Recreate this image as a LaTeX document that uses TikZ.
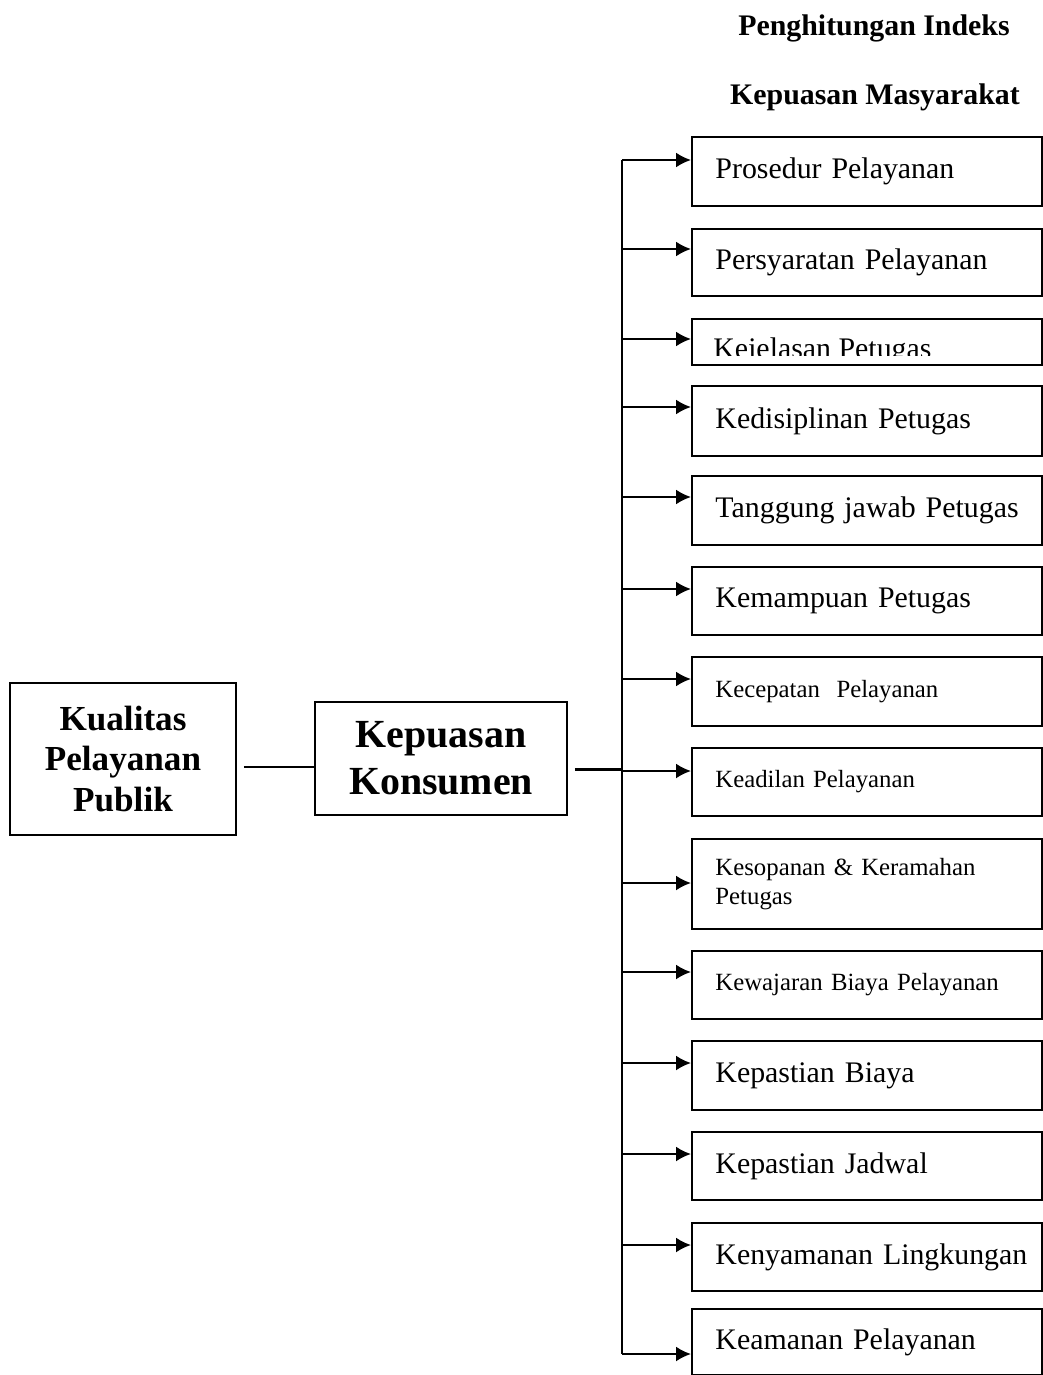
\documentclass[tikz,border=0pt]{standalone}
\usepackage{fontspec}
\setmainfont{Liberation Serif}
\usetikzlibrary{arrows.meta,calc}

\tikzset{
  item/.style={draw, line width=1.1pt, anchor=north west, minimum width=7cm,
    text width=6.06cm, inner xsep=0.44cm, align=left,
    font=\fontsize{17}{20}\selectfont},
  itemsmall/.style={item, font=\fontsize{14.1}{16.5}\selectfont},
  mainbox/.style={draw, line width=1.1pt, align=center},
  link/.style={line width=1.2pt},
}

\begin{document}
\begin{tikzpicture}[x=0.02cm,y=-0.02cm,>={Latex[length=0.3cm,width=0.3cm]}]
	\useasboundingbox (0,0) rectangle (1043,1375);

	% judul
	\node[font=\bfseries\fontsize{17}{20}\selectfont] (title1) at (874,28) {Penghitungan Indeks};
	\node[font=\bfseries\fontsize{17}{20}\selectfont] (title2) at (875,97) {Kepuasan Masyarakat};

	% kotak kiri
	\node[mainbox, minimum width=4.52cm, minimum height=3.04cm,
	      font=\bfseries\fontsize{20}{23.3}\selectfont] (kualitas) at (123,759) {Kualitas\\Pelayanan\\Publik};
	\node[mainbox, minimum width=5.04cm, minimum height=2.26cm,
	      font=\bfseries\fontsize{22.7}{26.7}\selectfont] (kepuasan) at (441,758.5) {Kepuasan\\Konsumen};

	% kotak kanan
	\node[item, minimum height=1.38cm] (prosedur) at (691,136) {Prosedur Pelayanan};
	\node[item, minimum height=1.34cm] (syarat) at (691,228) {Persyaratan Pelayanan};
	\node[item, minimum height=0.92cm] (jelas) at (691,318) {};
	\node[item, minimum height=1.40cm] (disiplin) at (691,385) {Kedisiplinan Petugas};
	\node[item, minimum height=1.38cm] (tanggung) at (691,475) {\mbox{Tanggung jawab Petugas}};
	\node[item, minimum height=1.36cm] (mampu) at (691,566) {Kemampuan Petugas};
	\node[itemsmall, minimum height=1.38cm] (cepat) at (691,656) {Kecepatan\ \ Pelayanan};
	\node[itemsmall, minimum height=1.36cm] (adil) at (691,747) {Keadilan Pelayanan};
	\node[itemsmall, minimum height=1.80cm] (sopan) at (691,838) {Kesopanan \& Keramahan\\Petugas};
	\node[itemsmall, minimum height=1.36cm] (wajar) at (691,950) {\mbox{Kewajaran Biaya Pelayanan}};
	\node[item, minimum height=1.38cm] (biaya) at (691,1040) {Kepastian Biaya};
	\node[item, minimum height=1.36cm] (jadwal) at (691,1131) {Kepastian Jadwal};
	\node[item, minimum height=1.36cm] (nyaman) at (691,1222) {\mbox{Kenyamanan Lingkungan}};
	\node[item, minimum height=1.32cm] (aman) at (691,1308) {Keamanan Pelayanan};

	% teks yang terpotong
	\begin{scope}
		\clip (691,318) rectangle (1041,355);
		\node[anchor=base west, inner sep=0, font=\fontsize{17}{20}\selectfont] (jelastext) at (713,358) {Kejelasan Petugas};
	\end{scope}

	% titik ujung panah
	\coordinate (trunk) at (622,0);
	\path (prosedur.north west) ++(0,24) coordinate (a1);
	\path (syarat.north west) ++(0,21) coordinate (a2);
	\path (jelas.north west) ++(0,21) coordinate (a3);
	\path (disiplin.north west) ++(0,22) coordinate (a4);
	\path (tanggung.north west) ++(0,22) coordinate (a5);
	\path (mampu.north west) ++(0,23) coordinate (a6);
	\path (cepat.north west) ++(0,23) coordinate (a7);
	\path (adil.north west) ++(0,24) coordinate (a8);
	\path (sopan.north west) ++(0,45) coordinate (a9);
	\path (wajar.north west) ++(0,22) coordinate (a10);
	\path (biaya.north west) ++(0,23) coordinate (a11);
	\path (jadwal.north west) ++(0,23) coordinate (a12);
	\path (nyaman.north west) ++(0,23) coordinate (a13);
	\path (aman.north west) ++(0,46) coordinate (a14);

	% garis
	\draw[link, shorten <=0.14cm] ([yshift=-0.16cm]kualitas.east) -- ([yshift=-0.16cm]kualitas.east -| kepuasan.west);
	\draw[link, shorten <=0.14cm] ([yshift=-0.22cm]kepuasan.east) -- ([yshift=-0.22cm]kepuasan.east -| trunk);
	\draw[link] (a1 -| trunk) -- (a14 -| trunk);

	\draw[link,->] (a1 -| trunk) -- (a1);
	\draw[link,->] (a2 -| trunk) -- (a2);
	\draw[link,->] (a3 -| trunk) -- (a3);
	\draw[link,->] (a4 -| trunk) -- (a4);
	\draw[link,->] (a5 -| trunk) -- (a5);
	\draw[link,->] (a6 -| trunk) -- (a6);
	\draw[link,->] (a7 -| trunk) -- (a7);
	\draw[link,->] (a8 -| trunk) -- (a8);
	\draw[link,->] (a9 -| trunk) -- (a9);
	\draw[link,->] (a10 -| trunk) -- (a10);
	\draw[link,->] (a11 -| trunk) -- (a11);
	\draw[link,->] (a12 -| trunk) -- (a12);
	\draw[link,->] (a13 -| trunk) -- (a13);
	\draw[link,->] (a14 -| trunk) -- (a14);
\end{tikzpicture}
\end{document}
